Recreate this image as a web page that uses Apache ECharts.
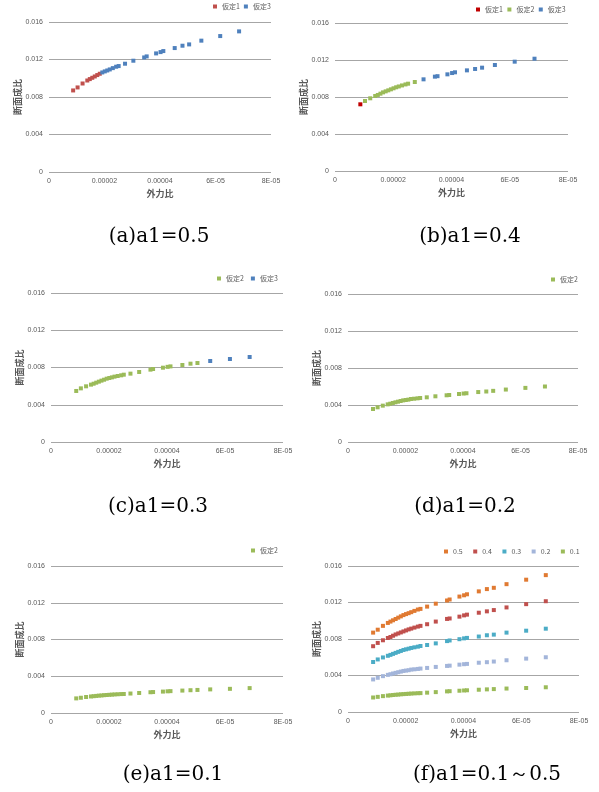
<!DOCTYPE html>
<html>
<head>
<meta charset="utf-8">
<script src="https://cdn.jsdelivr.net/npm/echarts@6/dist/echarts.min.js"></script>
<style>
  html, body { margin: 0; padding: 0; background: #fff; }
  #chart { width: 599px; height: 792px; }
</style>
</head>
<body>
<div id="chart"></div>
<script>
// x: 外力比 (same for every a1 case)
const forceRatio = [
    8.7e-6, 1.03e-5, 1.21e-5, 1.38e-5, 1.47e-5, 1.56e-5, 1.65e-5, 1.74e-5, 1.83e-5, 1.92e-5,
    2.01e-5, 2.10e-5, 2.19e-5, 2.30e-5, 2.42e-5, 2.51e-5, 2.74e-5, 3.04e-5, 3.43e-5, 3.52e-5,
    3.86e-5, 4.02e-5, 4.12e-5, 4.53e-5, 4.81e-5, 5.05e-5, 5.49e-5, 6.17e-5, 6.85e-5
];

// y: 断面成比 for each a1
const sectionA05 = [
    0.00870, 0.00902, 0.00944, 0.00976, 0.00991, 0.01005, 0.01019, 0.01034, 0.01048, 0.01062,
    0.01073, 0.01083, 0.01094, 0.01108, 0.01123, 0.01130, 0.01155, 0.01187, 0.01222, 0.01233,
    0.01265, 0.01279, 0.01290, 0.01322, 0.01347, 0.01361, 0.01401, 0.01450, 0.01500
];
const sectionA04 = [
    0.00721, 0.00757, 0.00786, 0.00811, 0.00822, 0.00836, 0.00850, 0.00861, 0.00872, 0.00883,
    0.00894, 0.00905, 0.00914, 0.00925, 0.00936, 0.00944, 0.00962, 0.00991, 0.01020, 0.01025,
    0.01045, 0.01059, 0.01067, 0.01088, 0.01103, 0.01117, 0.01146, 0.01182, 0.01214
];
const sectionA03 = [
    0.00548, 0.00576, 0.00598, 0.00616, 0.00626, 0.00637, 0.00648, 0.00659, 0.00669, 0.00680,
    0.00687, 0.00694, 0.00702, 0.00709, 0.00716, 0.00723, 0.00734, 0.00752, 0.00777, 0.00784,
    0.00798, 0.00807, 0.00812, 0.00827, 0.00841, 0.00848, 0.00870, 0.00891, 0.00913
];
const sectionA02 = [
    0.00357, 0.00375, 0.00393, 0.00407, 0.00414, 0.00422, 0.00429, 0.00436, 0.00443, 0.00450,
    0.00454, 0.00458, 0.00465, 0.00468, 0.00472, 0.00476, 0.00483, 0.00494, 0.00505, 0.00508,
    0.00519, 0.00524, 0.00527, 0.00540, 0.00546, 0.00553, 0.00567, 0.00585, 0.00600
];
const sectionA01 = [
    0.00159, 0.00166, 0.00174, 0.00180, 0.00183, 0.00186, 0.00189, 0.00191, 0.00194, 0.00196,
    0.00198, 0.00200, 0.00202, 0.00204, 0.00206, 0.00207, 0.00212, 0.00218, 0.00226, 0.00228,
    0.00233, 0.00236, 0.00238, 0.00244, 0.00248, 0.00251, 0.00257, 0.00263, 0.00271
];

const xTickLabels = ['0', '0.00002', '0.00004', '6E-05', '8E-05'];
const yTickLabels = ['0', '0.004', '0.008', '0.012', '0.016'];
const captions = ['(a)a1=0.5', '(b)a1=0.4', '(c)a1=0.3', '(d)a1=0.2', '(e)a1=0.1', '(f)a1=0.1～0.5'];
const groupNames = ['仮定1', '仮定2', '仮定3'];
const a1Names = ['0.5', '0.4', '0.3', '0.2', '0.1'];

const COLORS = {
    red: '#C0504D', darkRed: '#C00000', green: '#9BBB59', blue: '#4F81BD',
    orange: '#E07A32', teal: '#4BACC6', lavender: '#A3B5DA'
};

// each part: [name, color, values, first index, last index]
const panels = [
    { grid: [49, 22, 222, 150], legend: [213, 3, 4], caption: [159, 237],
      parts: [[groupNames[0], COLORS.red, sectionA05, 0, 8], [groupNames[2], COLORS.blue, sectionA05, 9, 28]] },
    { grid: [335, 23, 233, 148], legend: [476, 6, 4.5], caption: [470, 237],
      parts: [[groupNames[0], COLORS.darkRed, sectionA04, 0, 0], [groupNames[1], COLORS.green, sectionA04, 1, 16],
              [groupNames[2], COLORS.blue, sectionA04, 17, 28]] },
    { grid: [51, 293, 232, 149], legend: [217, 275, 7], caption: [158, 507],
      parts: [[groupNames[1], COLORS.green, sectionA03, 0, 25], [groupNames[2], COLORS.blue, sectionA03, 26, 28]] },
    { grid: [348, 294, 230, 148], legend: [551, 276, 7], caption: [465, 507],
      parts: [[groupNames[1], COLORS.green, sectionA02, 0, 28]] },
    { grid: [51, 566, 232, 147], legend: [251, 547, 7], caption: [173, 775],
      parts: [[groupNames[1], COLORS.green, sectionA01, 0, 28]] },
    { grid: [348, 566, 231, 146], legend: [444, 548, 10.5], caption: [487, 775],
      parts: [[a1Names[0], COLORS.orange, sectionA05, 0, 28], [a1Names[1], COLORS.red, sectionA04, 0, 28],
              [a1Names[2], COLORS.teal, sectionA03, 0, 28], [a1Names[3], COLORS.lavender, sectionA02, 0, 28],
              [a1Names[4], COLORS.green, sectionA01, 0, 28]] }
];

const labelFont = { fontFamily: 'Liberation Sans', fontSize: 7, color: '#595959' };
const titleFont = { fontFamily: 'Noto Sans CJK JP', fontSize: 9, fontWeight: 'bold', color: '#595959' };

const option = { animation: false, grid: [], xAxis: [], yAxis: [], legend: [], series: [], graphic: [] };

panels.forEach((p, i) => {
    option.grid.push({ left: p.grid[0], top: p.grid[1], width: p.grid[2], height: p.grid[3] });
    option.xAxis.push({
        gridIndex: i, type: 'value', min: 0, max: 8e-5, interval: 2e-5,
        name: '外力比', nameLocation: 'middle', nameGap: 17, nameTextStyle: titleFont,
        axisLine: { show: false }, axisTick: { show: false }, splitLine: { show: false },
        axisLabel: { ...labelFont, margin: 6, formatter: v => xTickLabels[Math.round(v / 2e-5)] }
    });
    option.yAxis.push({
        gridIndex: i, type: 'value', min: 0, max: 0.016, interval: 0.004,
        name: '断面成比', nameLocation: 'middle', nameGap: 26, nameRotate: 90, nameTextStyle: titleFont,
        axisLine: { show: false }, axisTick: { show: false },
        splitLine: { lineStyle: { color: '#A6A6A6', width: 1 } },
        axisLabel: { ...labelFont, margin: 6, formatter: v => yTickLabels[Math.round(v / 0.004)] }
    });
    option.legend.push({
        left: p.legend[0], top: p.legend[1], padding: 0, itemGap: p.legend[2],
        itemWidth: 4, itemHeight: 4, icon: 'rect',
        textStyle: { fontFamily: 'Noto Sans CJK JP', fontSize: 7, color: '#595959' },
        data: p.parts.map(part => ({ name: part[0], itemStyle: { color: part[1], opacity: 1 } }))
    });
    p.parts.forEach(part => {
        const data = [];
        for (let k = part[3]; k <= part[4]; k++) data.push([forceRatio[k], part[2][k]]);
        option.series.push({
            type: 'scatter', name: part[0], xAxisIndex: i, yAxisIndex: i,
            symbol: 'rect', symbolSize: 4, itemStyle: { color: part[1], opacity: 1 }, data: data
        });
    });
    option.graphic.push({
        type: 'text', x: p.caption[0], y: p.caption[1],
        style: { text: captions[i], fontFamily: 'DejaVu Serif', fontSize: 20, fill: '#000',
                 textAlign: 'center', textVerticalAlign: 'middle' }
    });
});

const chart = echarts.init(document.getElementById('chart'));
chart.setOption(option);
</script>
</body>
</html>
